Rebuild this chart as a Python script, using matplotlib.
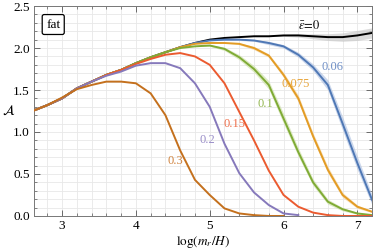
import numpy as np
import matplotlib.pyplot as plt
from matplotlib.ticker import MultipleLocator

plt.rcParams['font.family'] = ['Liberation Serif', 'DejaVu Serif']
plt.rcParams['mathtext.fontset'] = 'stix'

# log(m_r/H) sample points
x = np.round(np.arange(2.6, 7.21, 0.2), 2)

# eps = 0 and the shared early part
a_0 = [1.25, 1.32, 1.40, 1.52, 1.60, 1.68, 1.74, 1.82, 1.89, 1.95, 2.01, 2.06,
       2.10, 2.12, 2.13, 2.14, 2.14, 2.15, 2.15, 2.14, 2.13, 2.13, 2.15, 2.18]
a_006 = [1.25, 1.32, 1.40, 1.52, 1.60, 1.68, 1.74, 1.82, 1.89, 1.95, 2.01, 2.06,
         2.09, 2.10, 2.10, 2.09, 2.06, 2.02, 1.92, 1.77, 1.56, 1.10, 0.63, 0.19]
a_0075 = [1.25, 1.32, 1.40, 1.52, 1.60, 1.68, 1.74, 1.82, 1.89, 1.95, 2.01, 2.05,
          2.06, 2.06, 2.05, 2.00, 1.91, 1.68, 1.40, 0.95, 0.55, 0.25, 0.11, 0.05]
a_01 = [1.25, 1.32, 1.40, 1.52, 1.60, 1.68, 1.74, 1.82, 1.89, 1.95, 2.00, 2.02,
        2.03, 1.99, 1.89, 1.75, 1.56, 1.16, 0.76, 0.40, 0.17, 0.08, 0.03, 0.01]
a_015 = [1.25, 1.32, 1.40, 1.52, 1.60, 1.68, 1.74, 1.81, 1.87, 1.92, 1.94, 1.90,
         1.80, 1.58, 1.24, 0.90, 0.54, 0.25, 0.11, 0.04, 0.01, 0.0, 0.0, 0.0]
a_02 = [1.25, 1.32, 1.40, 1.52, 1.60, 1.67, 1.72, 1.79, 1.82, 1.82, 1.76, 1.58,
        1.30, 0.86, 0.51, 0.28, 0.13, 0.03, 0.01]
a_03 = [1.25, 1.32, 1.41, 1.51, 1.56, 1.60, 1.60, 1.58, 1.46, 1.20, 0.78, 0.43,
        0.25, 0.09, 0.03, 0.01, 0.0, 0.0]

# band half widths (only where visible)
band_0 = [0.0] * 17 + [0.01, 0.02, 0.03, 0.04, 0.05, 0.06, 0.06]
band_006 = [0.0] * 13 + [0.01, 0.01, 0.01, 0.02, 0.02, 0.03, 0.04, 0.06, 0.08, 0.08, 0.06]
band_0075 = [0.0] * 14 + [0.01, 0.02, 0.02, 0.03, 0.04, 0.04, 0.04, 0.03, 0.02, 0.01]
band_01 = [0.0] * 12 + [0.01, 0.02, 0.03, 0.04, 0.05, 0.06, 0.05, 0.04, 0.03, 0.02, 0.01, 0.01]

labels = [r'$\bar{\varepsilon}\!=\!0$', '0.06', '0.075', '0.1', '0.15', '0.2', '0.3']
label_xy = [(6.35, 2.27), (6.66, 1.77), (6.17, 1.57), (5.75, 1.33),
            (5.34, 1.10), (4.97, 0.91), (4.54, 0.66)]

black = '#000000'
blue = '#4f78b5'
orange = '#e39c25'
green = '#7fab35'
red = '#eb5b30'
purple = '#8679bb'
brown = '#c4701d'
label_colors = ['#000000', '#6f8fc6', '#e8a63c', '#94b752', '#ef704c', '#9a8ec8', '#d08440']

fig = plt.figure(figsize=(3.74, 2.52), dpi=100)
ax = fig.add_axes([0.091, 0.143, 0.904, 0.833])

series = [(a_0, black, band_0, '#c4c4c4'),
          (a_006, blue, band_006, '#a9bde0'),
          (a_0075, orange, band_0075, '#f3cf94'),
          (a_01, green, band_01, '#c8dca0'),
          (a_015, red, None, None),
          (a_02, purple, None, None),
          (a_03, brown, None, None)]

for ys, c, band, bc in series:
    xs = x[:len(ys)]
    ys = np.array(ys)
    if band is not None:
        b = np.array(band)
        ax.fill_between(xs, ys - b, ys + b, color=bc, alpha=0.6, lw=0, zorder=2)
    ax.plot(xs, ys, color=c, lw=1.4, zorder=3)

for (lx, ly), t, c in zip(label_xy, labels, label_colors):
    ax.text(lx, ly, t, color=c, fontsize=9, ha='center', va='center', zorder=4)

ax.text(2.88, 2.28, 'fat', fontsize=9.5, ha='center', va='center',
        bbox=dict(boxstyle='round,pad=0.3,rounding_size=0.15', fc='white', ec='black', lw=0.9))

ax.set_xlim(2.62, 7.2)
ax.set_ylim(0, 2.5)
ax.xaxis.set_major_locator(MultipleLocator(1))
ax.xaxis.set_minor_locator(MultipleLocator(0.2))
ax.yaxis.set_major_locator(MultipleLocator(0.5))
ax.yaxis.set_minor_locator(MultipleLocator(0.1))
ax.yaxis.set_major_formatter(plt.FuncFormatter(lambda v, p: f'{v:.1f}'))
ax.tick_params(which='both', direction='in', top=True, right=True, labelsize=9.5, color='#555555')
ax.tick_params(which='major', length=4, width=0.6, pad=3)
ax.tick_params(which='minor', length=2, width=0.5)
ax.grid(which='both', color='#e8e8e8', lw=0.6, zorder=0)
ax.set_axisbelow(True)
for s in ax.spines.values():
    s.set_linewidth(0.7)
    s.set_color('#777777')

ax.set_xlabel(r'$\log(m_r/H)$', fontsize=9.5, labelpad=1.5)
ax.set_ylabel(r'$\mathcal{A}$', fontsize=10, rotation=0, labelpad=3, va='center')

fig.savefig('out.png', dpi=100)
